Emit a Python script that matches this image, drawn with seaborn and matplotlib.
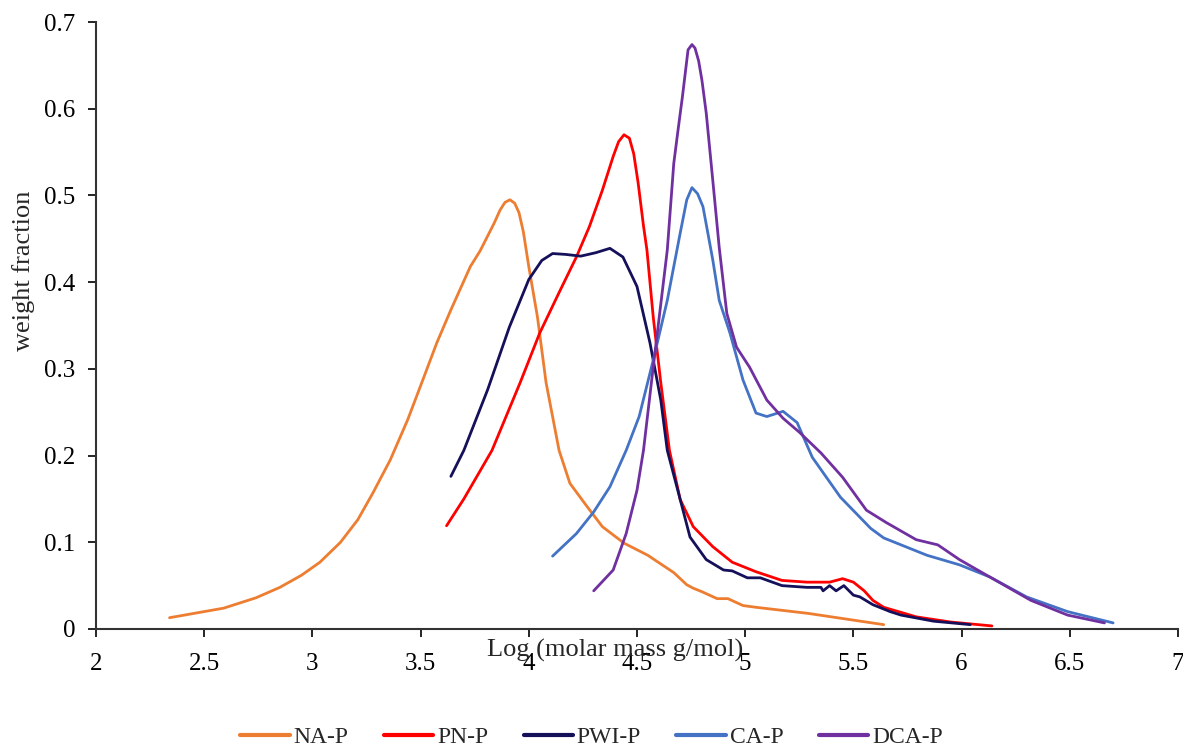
import matplotlib
matplotlib.use("Agg")
import matplotlib.pyplot as plt
import seaborn as sns
import pandas as pd

# values (log molar mass, weight fraction)
na_x = [2.34, 2.59, 2.74, 2.85, 2.95, 3.035, 3.13, 3.21, 3.28, 3.36, 3.44, 3.51, 3.575, 3.64, 3.73,
        3.775, 3.84, 3.867, 3.89, 3.913, 3.935, 3.955, 3.975, 4.0, 4.04, 4.08, 4.14, 4.19, 4.27, 4.34, 4.44, 4.55,
        4.67, 4.73, 4.76, 4.80, 4.87, 4.92, 4.99, 5.05, 5.29, 5.64]
na_y = [0.013, 0.024, 0.036, 0.048, 0.062, 0.077, 0.10, 0.126, 0.157, 0.195, 0.241, 0.287, 0.33, 0.368, 0.418,
        0.436, 0.468, 0.483, 0.492, 0.495, 0.491, 0.480, 0.458, 0.418, 0.36, 0.284, 0.206, 0.168, 0.141, 0.118, 0.099, 0.085,
        0.065, 0.051, 0.047, 0.043, 0.035, 0.035, 0.027, 0.025, 0.018, 0.005]

pn_x = [3.62, 3.70, 3.83, 3.96, 4.05, 4.14, 4.22, 4.28, 4.34, 4.39, 4.415, 4.44, 4.465, 4.485, 4.505, 4.53, 4.546,
        4.575, 4.61, 4.65, 4.70, 4.76, 4.85, 4.94, 5.05, 5.17, 5.285, 5.39, 5.45, 5.50, 5.55, 5.59, 5.64,
        5.79, 5.95, 6.14]
pn_y = [0.119, 0.150, 0.206, 0.284, 0.341, 0.388, 0.429, 0.464, 0.506, 0.545, 0.562, 0.570, 0.566, 0.548, 0.515, 0.465, 0.437,
        0.36, 0.284, 0.206, 0.149, 0.118, 0.095, 0.077, 0.066, 0.056, 0.054, 0.054, 0.058, 0.054, 0.044, 0.033, 0.025,
        0.014, 0.008, 0.0035]

pwi_x = [3.64, 3.70, 3.81, 3.91, 4.0, 4.06, 4.11, 4.17, 4.24, 4.31, 4.375, 4.435, 4.50, 4.56, 4.61, 4.64,
         4.70, 4.745, 4.82, 4.90, 4.94, 5.01, 5.07, 5.17, 5.285, 5.35, 5.36, 5.39, 5.42, 5.456, 5.50, 5.53,
         5.59, 5.67, 5.72, 5.87, 6.04]
pwi_y = [0.176, 0.206, 0.276, 0.348, 0.403, 0.425, 0.433, 0.432, 0.430, 0.434, 0.439, 0.429, 0.395, 0.33, 0.264, 0.206,
         0.149, 0.106, 0.080, 0.068, 0.067, 0.059, 0.059, 0.050, 0.048, 0.048, 0.044, 0.050, 0.044, 0.050, 0.039, 0.037,
         0.028, 0.020, 0.016, 0.009, 0.005]

ca_x = [4.11, 4.22, 4.30, 4.375, 4.45, 4.51, 4.575, 4.64, 4.70, 4.73, 4.754, 4.78, 4.805, 4.85, 4.88, 4.93,
        4.99, 5.05, 5.10, 5.175, 5.24, 5.31, 5.44, 5.58, 5.64, 5.84, 5.99, 6.13, 6.30, 6.49, 6.70]
ca_y = [0.084, 0.110, 0.135, 0.164, 0.206, 0.245, 0.31, 0.379, 0.457, 0.495, 0.509, 0.502, 0.487, 0.426, 0.379, 0.341,
        0.287, 0.249, 0.245, 0.251, 0.238, 0.198, 0.152, 0.116, 0.105, 0.085, 0.074, 0.060, 0.037, 0.020, 0.007]

dca_x = [4.30, 4.39, 4.45, 4.50, 4.53, 4.575, 4.64, 4.67, 4.69, 4.71, 4.736, 4.754, 4.768, 4.785, 4.80, 4.82,
         4.85, 4.88, 4.915, 4.96, 5.02, 5.10, 5.175, 5.25, 5.35, 5.45, 5.56, 5.65, 5.79, 5.89, 5.99, 6.13,
         6.32, 6.49, 6.66]
dca_y = [0.044, 0.068, 0.110, 0.160, 0.206, 0.302, 0.437, 0.537, 0.576, 0.614, 0.668, 0.674, 0.670, 0.655, 0.633, 0.595,
         0.518, 0.44, 0.364, 0.325, 0.302, 0.264, 0.243, 0.227, 0.203, 0.175, 0.137, 0.123, 0.103, 0.097, 0.080, 0.060,
         0.033, 0.016, 0.007]

series = {"NA-P": (na_x, na_y), "PN-P": (pn_x, pn_y), "PWI-P": (pwi_x, pwi_y),
          "CA-P": (ca_x, ca_y), "DCA-P": (dca_x, dca_y)}
colors = {"NA-P": "#ED7D31", "PN-P": "#FF0000", "PWI-P": "#15105A",
          "CA-P": "#4472C4", "DCA-P": "#7030A0"}

rows = []
for name, (xs, ys) in series.items():
    for x, y in zip(xs, ys):
        rows.append({"logM": x, "wf": y, "sample": name})
df = pd.DataFrame(rows)

sns.set_style("ticks")
plt.rcParams["font.family"] = ["Liberation Serif", "DejaVu Serif"]

fig = plt.figure(figsize=(11.83, 7.47), dpi=100)
ax = fig.add_axes([0.0811, 0.158, 0.9147, 0.8125])

sns.lineplot(data=df, x="logM", y="wf", hue="sample", palette=colors, sort=False,
             estimator=None, linewidth=2.0, ax=ax, legend=True)

ax.set_xlim(2, 7)
ax.set_ylim(0, 0.7)
ax.set_xticks([2, 2.5, 3, 3.5, 4, 4.5, 5, 5.5, 6, 6.5, 7])
ax.set_xticklabels(["2", "2.5", "3", "3.5", "4", "4.5", "5", "5.5", "6", "6.5", "7"])
ax.set_yticks([0, 0.1, 0.2, 0.3, 0.4, 0.5, 0.6, 0.7])
ax.set_yticklabels(["0", "0.1", "0.2", "0.3", "0.4", "0.5", "0.6", "0.7"])
ax.tick_params(direction="out", length=6, width=1.2, labelsize=18, colors="black")
ax.tick_params(axis="x", pad=11)
ax.tick_params(axis="y", pad=9)
for s in ["top", "right"]:
    ax.spines[s].set_visible(False)
for s in ["left", "bottom"]:
    ax.spines[s].set_color("#333333")
    ax.spines[s].set_linewidth(1.5)

# x label sits over the tick labels, as in the original
ax.set_xlabel("Log (molar mass g/mol)", fontsize=19)
ax.xaxis.set_label_coords(0.48, -0.016)
ax.xaxis.label.set_va("top")
ax.set_ylabel("weight fraction", fontsize=19)
ax.yaxis.set_label_coords(-0.067, 0.59)
ax.yaxis.label.set_va("center")

handles, labels = ax.get_legend_handles_labels()
ax.legend_.remove()
leg = fig.legend(handles, labels, loc="center", bbox_to_anchor=(0.5, 0.013), ncol=5, frameon=False,
                 fontsize=17, handlelength=2.1, columnspacing=1.5, handletextpad=0.15)
for h in leg.get_lines():
    h.set_linewidth(3)

fig.savefig("out.png", dpi=100)
